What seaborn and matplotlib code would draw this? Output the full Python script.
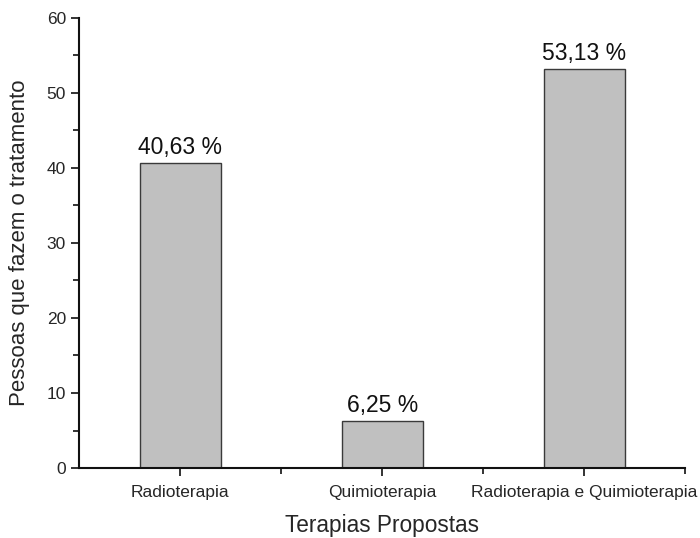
import numpy as np
import matplotlib.pyplot as plt
import pandas as pd
import seaborn as sns
from matplotlib.ticker import MultipleLocator

terapias = ['Radioterapia', 'Quimioterapia', 'Radioterapia e Quimioterapia']
valores = [40.63, 6.25, 53.13]
rotulos = ['40,63 %', '6,25 %', '53,13 %']

df = pd.DataFrame({'terapia': terapias, 'valor': valores})

sns.set_style('ticks')
plt.rcParams['font.family'] = ['Liberation Sans', 'DejaVu Sans']

fig = plt.figure(figsize=(7, 5.38), dpi=100)
ax = fig.add_axes([0.113, 0.130, 0.866, 0.837])

sns.barplot(data=df, x='terapia', y='valor', color='#c0c0c0', width=0.4,
            edgecolor='#3a3a3a', linewidth=1, saturation=1, ax=ax)

# rotulos de porcentagem acima das barras
for i, (v, t) in enumerate(zip(valores, rotulos)):
    ax.text(i, v + 0.6, t, ha='center', va='bottom', fontsize=16.5, color='#111111')

ax.set_xlim(-0.5, 2.5)
ax.set_ylim(0, 60)
ax.yaxis.set_major_locator(MultipleLocator(10))
ax.yaxis.set_minor_locator(MultipleLocator(5))
ax.set_xticks([0.5, 1.5, 2.5], minor=True)
ax.tick_params(axis='both', which='major', length=6, width=1.2, labelsize=12.5, color='#111111')
ax.tick_params(axis='both', which='minor', length=4, width=1.2, color='#111111')
ax.tick_params(axis='x', which='major', pad=6)

for s in ['left', 'bottom']:
    ax.spines[s].set_linewidth(1.5)
    ax.spines[s].set_color('#111111')
sns.despine(ax=ax)

ax.set_xlabel('Terapias Propostas', fontsize=16.3, labelpad=10)
ax.set_ylabel('Pessoas que fazem o tratamento', fontsize=16, labelpad=12)

fig.savefig('out.png', dpi=100)
